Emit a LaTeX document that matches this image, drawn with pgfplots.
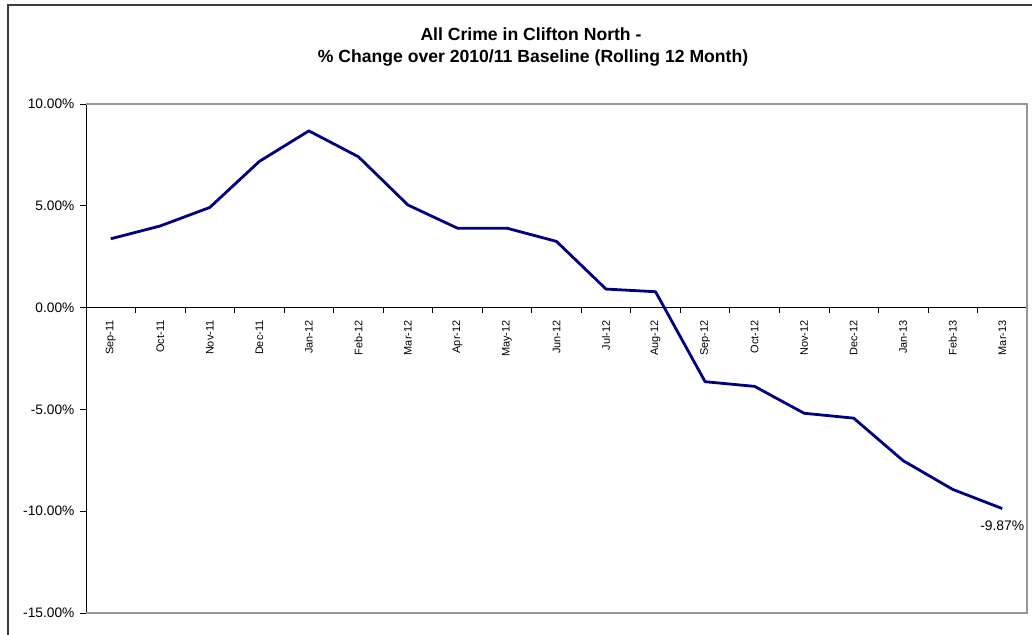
\documentclass[border=0pt]{standalone}
\usepackage{pgfplots}
\pgfplotsset{compat=1.18}
\usepackage{fontspec}
\setmainfont{Liberation Sans}
\definecolor{crimeline}{RGB}{0,0,128}
\definecolor{framegray}{RGB}{150,150,150}
\definecolor{outerframe}{RGB}{60,60,60}

\pgfplotstableread{
x val
0 3.38
1 4.01
2 4.92
3 7.18
4 8.68
5 7.41
6 5.04
7 3.90
8 3.90
9 3.25
10 0.91
11 0.78
12 -3.64
13 -3.87
14 -5.19
15 -5.43
16 -7.52
17 -8.93
18 -9.87
}\crimedata

% pixel helper: (x,y) measured from the top-left of a 1032x635 picture
\newcommand\px[2]{({#1*0.75pt},{(635-#2)*0.75pt})}

\begin{document}
\begin{tikzpicture}
\useasboundingbox \px{0}{0} rectangle \px{1032}{635};
% outer chart frame (right and bottom edges fall outside the picture)
\draw[outerframe, line width=1.2pt] \px{8}{660} -- \px{8}{5} -- \px{1060}{5};

\node[anchor=base, font=\bfseries\fontsize{13.2}{15}\selectfont] at \px{531}{41} {All Crime in Clifton North -};
\node[anchor=base, font=\bfseries\fontsize{13.2}{15}\selectfont] at \px{533}{63} {\% Change over 2010/11 Baseline (Rolling 12 Month)};

\begin{axis}[
  at={(64.5pt,16.5pt)}, anchor=south west,
  scale only axis,
  width=705.75pt, height=381.75pt,
  xmin=-0.5, xmax=18.5,
  ymin=-15, ymax=10,
  axis x line=middle,
  axis y line=left,
  axis line style={-, black, line width=0.6pt},
  hide obscured x ticks=false,
  hide obscured y ticks=false,
  xtick={0,...,18},
  xticklabels={Sep-11,Oct-11,Nov-11,Dec-11,Jan-12,Feb-12,Mar-12,Apr-12,May-12,Jun-12,Jul-12,Aug-12,Sep-12,Oct-12,Nov-12,Dec-12,Jan-13,Feb-13,Mar-13},
  x tick label style={rotate=90, anchor=east, font=\fontsize{8.2}{9}\selectfont, inner sep=1pt, xshift=-4pt},
  minor xtick={0.5,1.5,...,18.5},
  x tick style={draw=none},
  minor x tick style={black, line width=0.6pt, draw=black},
  minor tick length=4pt,
  ytick={-15,-10,...,10},
  yticklabel={\pgfmathprintnumber[fixed,fixed zerofill,precision=2,assume math mode=true]{\tick}\%},
  y tick label style={font=\fontsize{10.3}{12}\selectfont, inner sep=1pt, xshift=-3pt},
  y tick style={black, line width=0.6pt},
  major tick length=4.5pt,
  tick align=outside,
  clip=false,
]
\addplot[crimeline, line width=2.1pt, line join=round] table[x=x, y=val] {\crimedata};
\addplot[draw=none, nodes near coords, point meta=explicit symbolic,
  nodes near coords style={anchor=north, font=\fontsize{10.4}{12}\selectfont, yshift=-6pt}]
  coordinates {(18,-9.87) [-9.87\%]};
\draw[framegray, line width=0.8pt] (rel axis cs:0,1) -- (rel axis cs:1,1) -- (rel axis cs:1,0) -- (rel axis cs:0,0);
\end{axis}
\end{tikzpicture}
\end{document}
